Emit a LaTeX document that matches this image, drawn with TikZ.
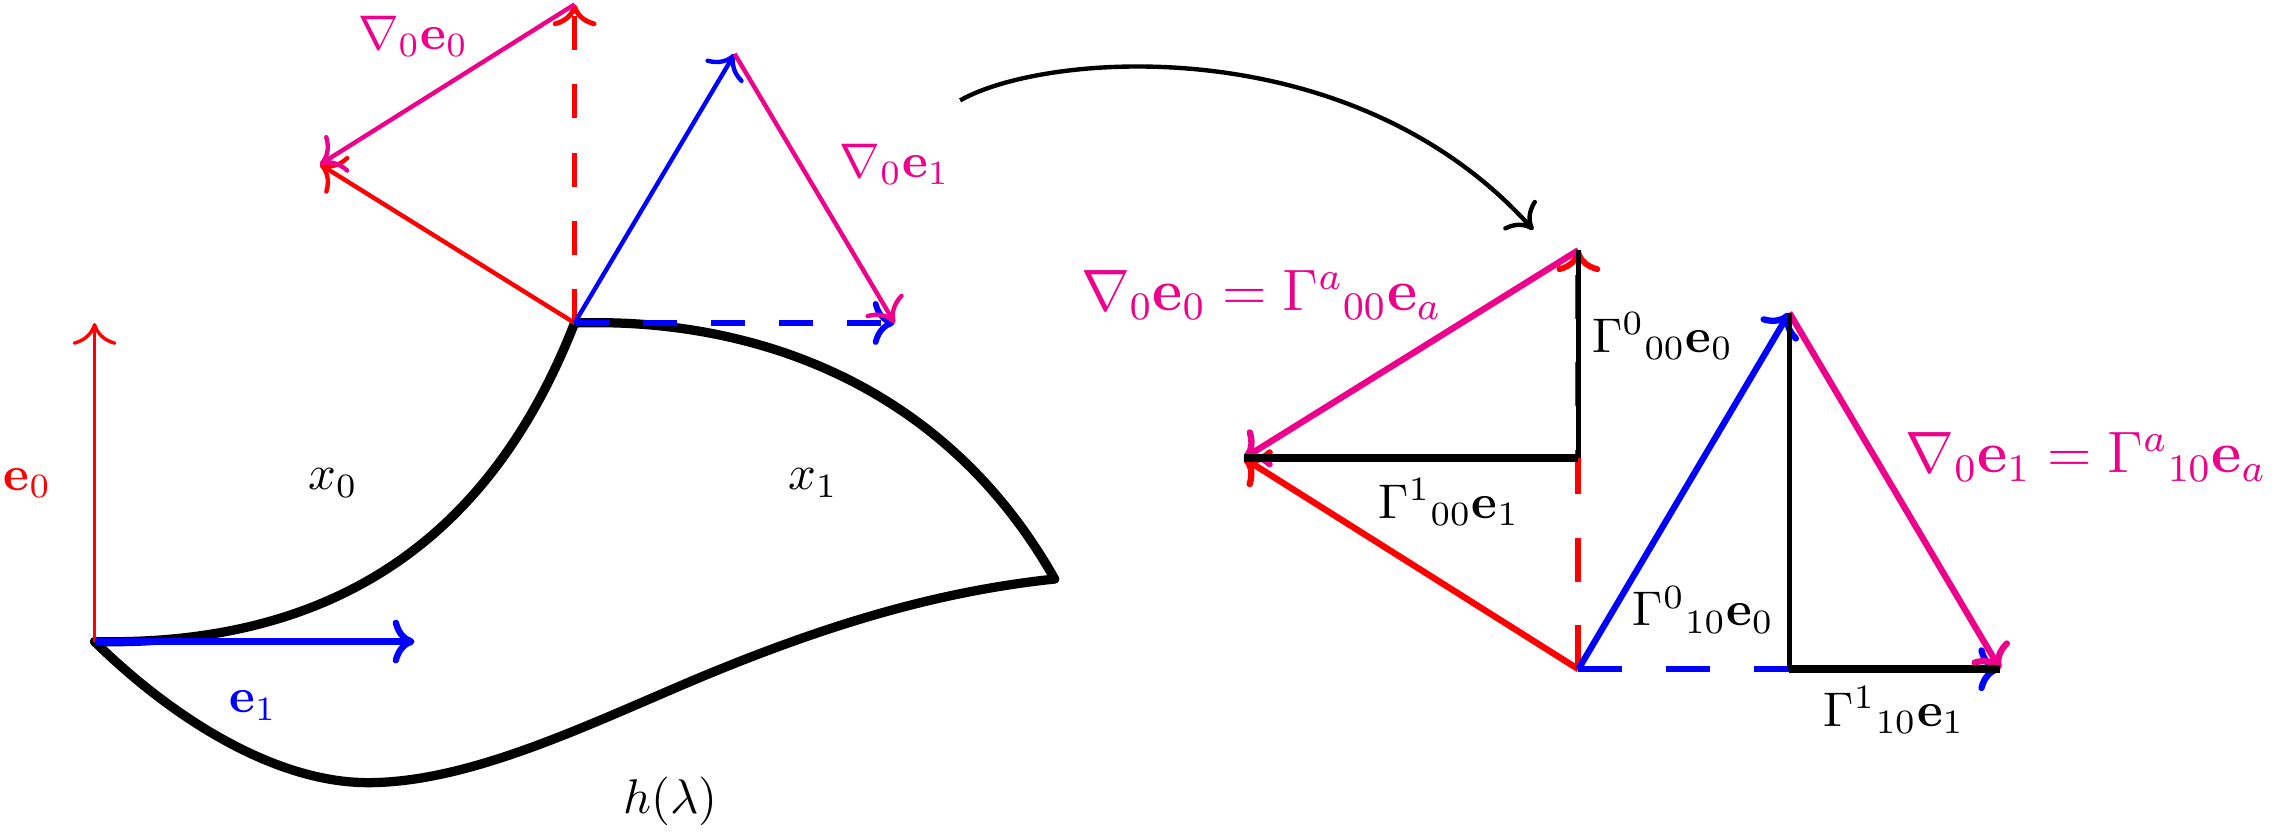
\documentclass[tikz,border=0pt]{standalone}
\usetikzlibrary{arrows.meta}

\definecolor{nabla}{RGB}{236,0,140}

\begin{document}
\begin{tikzpicture}[x=0.0105cm, y=-0.0105cm, >={To[length=4.5pt,width=9pt]},
        thin vec/.style={->, line width=0.9pt},
        fat vec/.style={->, line width=1.3pt},
        dash vec/.style={->, line width=1pt, dash pattern=on 7pt off 7pt},
        edge/.style={line width=1.9pt, line cap=round, line join=round},
        sum label/.style={nabla, font=\large}]
        \useasboundingbox (0,0) rectangle (1568,575);

        % points of the patch
        \coordinate (a) at (65,441);
        \coordinate (p) at (395,222);
        \coordinate (b) at (725,398);
        \coordinate (e0tip) at (65,222);
        \coordinate (e1tip) at (285,441);

        % vectors moved to p
        \coordinate (pe0) at (395,3);
        \coordinate (pnew0) at (220,113);
        \coordinate (pe1) at (505,37);
        \coordinate (pnew1) at (615,222);

        % right hand side
        \coordinate (q) at (1085,460);
        \coordinate (qe0) at (1085,172);
        \coordinate (qnew0) at (855,315);
        \coordinate (qk) at (1085,315);
        \coordinate (qe1) at (1230,215);
        \coordinate (qnew1) at (1375,460);
        \coordinate (qm) at (1230,460);

        \coordinate (arcstart) at (660,69);
        \coordinate (arcend) at (1054,158);

        % the patch
        \draw[edge] (a) .. controls (250,445) and (345,350) .. (p);
        \draw[edge] (p) .. controls (520,218) and (650,265) .. (b);
        \draw[edge] (a) .. controls (120,495) and (190,538) .. (253,538)
            .. controls (330,538) and (420,490) .. (500,458)
            .. controls (580,426) and (650,406) .. (b);

        \draw[->, red, line width=0.7pt] (a) -- (e0tip);
        \draw[fat vec, blue] (a) -- (e1tip);

        \draw[dash vec, red] (p) -- (pe0);
        \draw[dash vec, blue, line width=1.2pt] (p) -- (pnew1);
        \draw[thin vec, red] (p) -- (pnew0);
        \draw[thin vec, nabla] (pe0) -- (pnew0);
        \draw[thin vec, blue] (p) -- (pe1);
        \draw[thin vec, nabla] (pe1) -- (pnew1);

        \node[red] (le0) at (19,332) {$\mathbf{e}_0$};
        \node[blue] (le1) at (174,485) {$\mathbf{e}_1$};
        \node (lx0) at (229,332) {$x_0$};
        \node (lx1) at (559,332) {$x_1$};
        \node (lh) at (461,551) {$h(\lambda)$};
        \node[nabla] (lnab0) at (284,25) {$\nabla_0\mathbf{e}_0$};
        \node[nabla] (lnab1) at (615,113) {$\nabla_0\mathbf{e}_1$};

        \draw[->, line width=0.9pt] (arcstart) .. controls (720,35) and (930,20) .. (arcend);

        % components on the right
        \draw[dash vec, red, line width=1.2pt, dash pattern=on 9pt off 9pt] (q) -- (qe0);
        \draw[fat vec, red] (q) -- (qnew0);
        \draw[fat vec, nabla] (qe0) -- (qnew0);
        \draw[line width=0.9pt] (qk) -- (qe0);
        \draw[line width=1.7pt] (qk) -- (qnew0);

        \draw[fat vec, blue] (q) -- (qe1);
        \draw[dash vec, blue, line width=1.3pt, dash pattern=on 9pt off 9pt] (q) -- (qnew1);
        \draw[fat vec, nabla] (qe1) -- (qnew1);
        \draw[line width=0.9pt] (qm) -- (qe1);
        \draw[line width=1.7pt] (qm) -- (qnew1);

        \node[sum label] (lnabsum0) at (867,203) {$\nabla_0\mathbf{e}_0=\Gamma^a{}_{00}\mathbf{e}_a$};
        \node[sum label] (lnabsum1) at (1434,314) {$\nabla_0\mathbf{e}_1=\Gamma^a{}_{10}\mathbf{e}_a$};
        \node (lg000) at (1143,231) {$\Gamma^0{}_{00}\mathbf{e}_0$};
        \node (lg100) at (996,345) {$\Gamma^1{}_{00}\mathbf{e}_1$};
        \node (lg010) at (1171,419) {$\Gamma^0{}_{10}\mathbf{e}_0$};
        \node (lg110) at (1302,488) {$\Gamma^1{}_{10}\mathbf{e}_1$};
    \end{tikzpicture}
\end{document}
